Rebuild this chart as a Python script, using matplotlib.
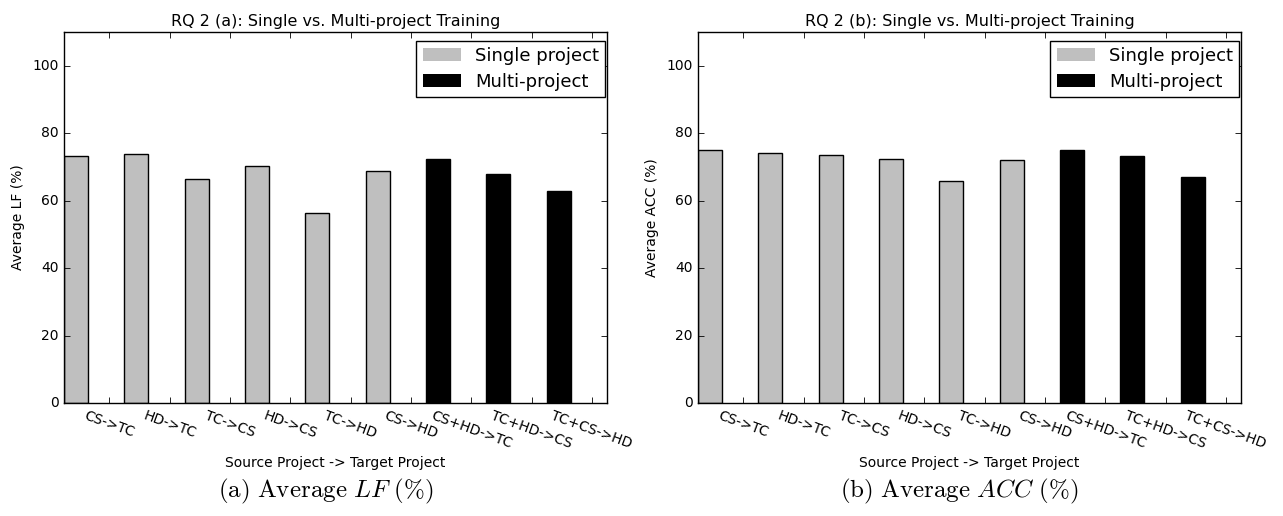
import matplotlib
matplotlib.use('Agg')
import matplotlib.pyplot as plt
from matplotlib.patches import Patch
import numpy as np

plt.style.use('classic')
plt.rcParams['mathtext.fontset'] = 'cm'
plt.rcParams['font.family'] = ['DejaVu Sans']

# x categories
pairs = ['CS->TC', 'HD->TC', 'TC->CS', 'HD->CS', 'TC->HD', 'CS->HD',
         'CS+HD->TC', 'TC+HD->CS', 'TC+CS->HD']
is_multi = [False, False, False, False, False, False, True, True, True]

# values
avg_lf = [73.3, 73.7, 66.5, 70.4, 56.4, 68.7, 72.3, 67.8, 62.9]
avg_acc = [74.9, 74.2, 73.6, 72.4, 65.7, 72.1, 75.1, 73.2, 67.1]

single_color = '#bfbfbf'
multi_color = 'black'

fig = plt.figure(figsize=(12.83, 5.16), dpi=100)
fig.patch.set_facecolor('white')

panels = [
    (64, avg_lf, 'Average LF (%)', 'RQ 2 (a): Single vs. Multi-project Training',
     r'$\mathrm{(a)\ Average\ }LF\ \mathrm{(\%)}$'),
    (698, avg_acc, 'Average ACC (%)', 'RQ 2 (b): Single vs. Multi-project Training',
     r'$\mathrm{(b)\ Average\ }ACC\ \mathrm{(\%)}$'),
]

W, H = 1283.0, 516.0
ind = np.arange(len(pairs))
width = 0.4

for left, vals, ylab, title, caption in panels:
    ax = fig.add_axes([left / W, (H - 403) / H, 543 / W, 371 / H])
    ax.set_facecolor('white')
    colors = [multi_color if m else single_color for m in is_multi]
    ax.bar(ind, vals, width, align='edge', color=colors, edgecolor='black',
           linewidth=1.0)
    ax.set_xlim(0, len(pairs))
    ax.set_ylim(0, 110)
    ax.set_yticks(range(0, 101, 20))
    ax.set_xticks(ind + 0.75)
    ax.set_xticklabels(pairs, rotation=-20, ha='center', fontsize=10)
    ax.tick_params(axis='y', labelsize=10)
    ax.tick_params(direction='in', top=True, right=True, length=4, width=0.6)
    ax.set_ylabel(ylab, fontsize=10)
    ax.set_xlabel('Source Project -> Target Project', fontsize=10, labelpad=4)
    ax.set_title(title, fontsize=11.5, pad=4)
    handles = [Patch(facecolor=single_color, edgecolor='none'),
               Patch(facecolor=multi_color, edgecolor='none')]
    ax.legend(handles, ['Single project', 'Multi-project'], loc='upper right',
              bbox_to_anchor=(0.997, 0.977), borderaxespad=0, fontsize=13,
              handlelength=2.1, handletextpad=0.8, labelspacing=0.45,
              borderpad=0.35, fancybox=False, frameon=True)
    cx = (left + 543 / 2.0) / W
    fig.text(cx - 10 / W, (H - 491) / H, caption, fontsize=18,
             ha='center', va='center')

fig.savefig('out.png', dpi=100, facecolor='white')
